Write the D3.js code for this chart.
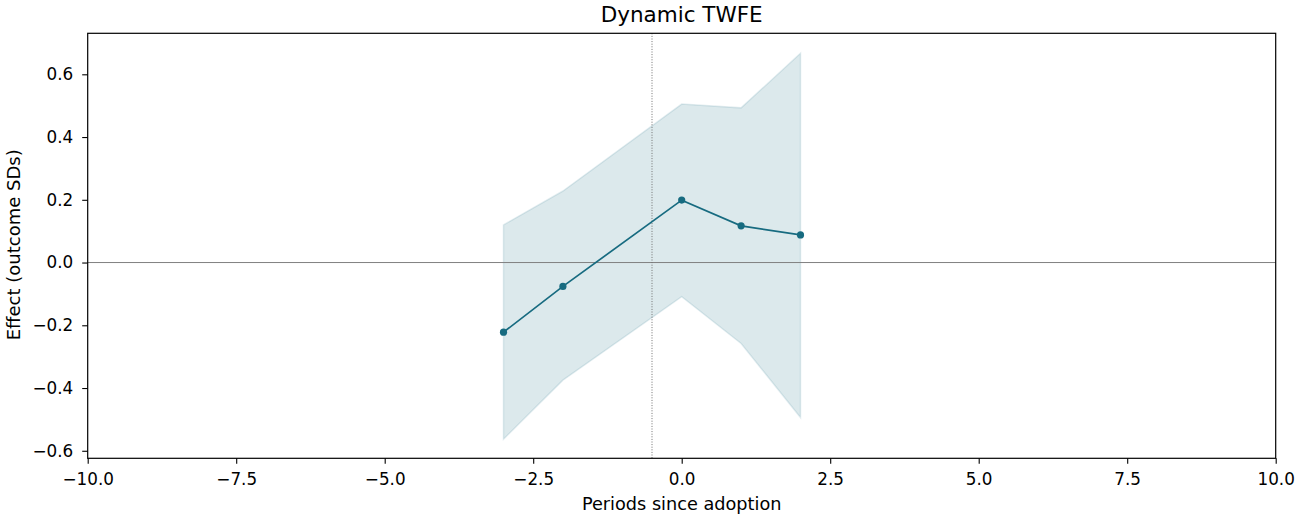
<!DOCTYPE html>
<html>
<head>
<meta charset="utf-8">
<script src="https://cdn.jsdelivr.net/npm/d3@7"></script>
<style>
  body { margin: 0; background: #fff; }
  text { font-family: "DejaVu Sans", sans-serif; fill: #000; }
</style>
</head>
<body>
<div id="chart"></div>
<script>
// event-study estimates
const periods = [-3, -2, 0, 1, 2];
const estimates = [-0.222, -0.076, 0.199, 0.117, 0.088];
const ciLower = [-0.563, -0.375, -0.109, -0.258, -0.494];
const ciUpper = [0.120, 0.228, 0.505, 0.493, 0.667];
const xTicks = [-10, -7.5, -5, -2.5, 0, 2.5, 5, 7.5, 10];
const yTicks = [-0.6, -0.4, -0.2, 0.0, 0.2, 0.4, 0.6];

const W = 1300, H = 520;
const margin = { top: 33.3, right: 24.3, bottom: 61.7, left: 87.7 };
const width = W - margin.left - margin.right;
const height = H - margin.top - margin.bottom;
const color = "#176b80";

const svg = d3.select("#chart").append("svg")
    .attr("width", W)
    .attr("height", H);

const g = svg.append("g")
    .attr("transform", "translate(" + margin.left + "," + margin.top + ")");

const x = d3.scaleLinear().domain([-10, 10]).range([0, width]);
const y = d3.scaleLinear().domain([-0.624, 0.7307]).range([height, 0]);

const rows = periods.map((p, i) => ({ p: p, est: estimates[i], lo: ciLower[i], hi: ciUpper[i] }));

// confidence band
g.append("path")
    .datum(rows)
    .attr("d", d3.area().x(d => x(d.p)).y0(d => y(d.lo)).y1(d => y(d.hi)))
    .attr("fill", color)
    .attr("fill-opacity", 0.15)
    .attr("stroke", color)
    .attr("stroke-opacity", 0.12)
    .attr("stroke-width", 1.5);

// zero line
g.append("line")
    .attr("x1", 0).attr("x2", width)
    .attr("y1", y(0)).attr("y2", y(0))
    .attr("stroke", "#808080")
    .attr("stroke-width", 1);

// adoption line
g.append("line")
    .attr("x1", x(-0.5)).attr("x2", x(-0.5))
    .attr("y1", 0).attr("y2", height)
    .attr("stroke", "#707070")
    .attr("stroke-width", 1)
    .attr("stroke-dasharray", "1,1.6");

// estimate line + markers
g.append("path")
    .datum(rows)
    .attr("d", d3.line().x(d => x(d.p)).y(d => y(d.est)))
    .attr("fill", "none")
    .attr("stroke", color)
    .attr("stroke-width", 1.7);

g.selectAll("circle.pt")
    .data(rows)
    .enter()
    .append("circle")
    .attr("class", "pt")
    .attr("cx", d => x(d.p))
    .attr("cy", d => y(d.est))
    .attr("r", 3.6)
    .attr("fill", color);

const fmt = d => d3.format(".1f")(d).replace("-", "\u2212");

// axes
const xAxis = g.append("g")
    .attr("transform", "translate(0," + height + ")")
    .call(d3.axisBottom(x).tickValues(xTicks).tickSize(5.5).tickPadding(9.5).tickFormat(fmt));

const yAxis = g.append("g")
    .call(d3.axisLeft(y).tickValues(yTicks).tickSize(5.5).tickPadding(9).tickFormat(fmt));

[xAxis, yAxis].forEach(a => {
    a.select(".domain").remove();
    a.selectAll("text").style("font-size", "16.8px").style("font-family", "DejaVu Sans");
    a.selectAll("line").attr("stroke", "#000").attr("stroke-width", 1.1);
});

// frame
g.append("rect")
    .attr("width", width)
    .attr("height", height)
    .attr("fill", "none")
    .attr("stroke", "#000")
    .attr("stroke-width", 1.2);

// labels
svg.append("text")
    .attr("x", margin.left + width / 2)
    .attr("y", 22)
    .attr("text-anchor", "middle")
    .style("font-size", "21.5px")
    .text("Dynamic TWFE");

svg.append("text")
    .attr("x", margin.left + width / 2)
    .attr("y", 510)
    .attr("text-anchor", "middle")
    .style("font-size", "17.7px")
    .text("Periods since adoption");

svg.append("text")
    .attr("transform", "translate(20," + (margin.top + height / 2 - 1) + ") rotate(-90)")
    .attr("text-anchor", "middle")
    .style("font-size", "18px")
    .text("Effect (outcome SDs)");
</script>
</body>
</html>
